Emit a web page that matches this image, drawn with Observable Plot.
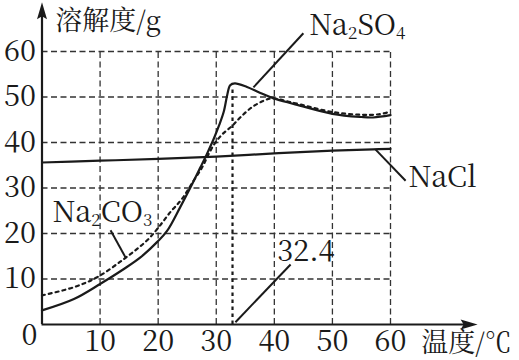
<!DOCTYPE html>
<html><head><meta charset="utf-8">
<script src="https://cdn.jsdelivr.net/npm/d3@7"></script>
<script src="https://cdn.jsdelivr.net/npm/@observablehq/plot@0.6"></script>
<style>html,body{margin:0;padding:0;background:#fff}#chart svg{display:block}</style>
</head><body><div id="chart"></div>
<script>
// tick values
const xTicks = [10, 20, 30, 40, 50, 60];
const yTicks = [10, 20, 30, 40, 50, 60];

// NaCl (solid)
const naclT = [0, 10, 20, 30, 40, 50, 57, 60];
const naclS = [35.6, 36.0, 36.4, 36.9, 37.6, 38.2, 38.5, 38.6];

// Na2SO4 (solid)
const na2so4T = [0, 5.5, 10, 14.1, 17, 19.8, 21.5, 23.8, 25.6, 27.3, 28.4, 29.5, 30.5, 31.3, 31.9, 32.4, 33.2, 35.3, 37.6, 39.9, 43.3, 50, 55, 57, 60];
const na2so4S = [3.1, 5.6, 8.9, 12.2, 14.8, 18.1, 20.5, 25.8, 30.2, 34.6, 37.5, 40.6, 43.8, 46.8, 50.5, 52.6, 53.0, 52.2, 50.9, 49.7, 48.5, 46.3, 45.6, 45.5, 46.0];

// Na2CO3 (dotted)
const na2co3T = [0, 5.5, 9.5, 14.1, 18.1, 20.1, 22.1, 24.1, 26.1, 27.6, 28.7, 29.9, 31.2, 32.7, 34.2, 36.2, 38.2, 39.6, 43, 50, 55, 58, 60];
const na2co3S = [6.4, 8.2, 10.4, 14.4, 18.5, 21.4, 24.7, 27.6, 31.6, 34.6, 37.5, 40.1, 42.0, 43.6, 45.6, 47.8, 49.2, 49.7, 48.8, 46.7, 46.1, 46.2, 46.8];

// transition temperature (dotted drop line)
const peakT = [32.8];
const peakS = [52];

// leader lines: [x1, y1, x2, y2]
const leaders = [
  [45.0, 64.0, 36.4, 52.1],   // Na2SO4
  [57.4, 38.5, 62.6, 31.6],   // NaCl
  [11.8, 20.7, 14.4, 14.7],   // Na2CO3
  [33.3, 0.5, 42.8, 13.2]     // 32.4
];

// labels
const labelText = ["Na2SO4", "NaCl", "Na2CO3", "32.4"];
const labelT = [46.0, 63.1, 1.8, 40.5];
const labelS = [65.7, 32.3, 24.6, 16.0];

const toRows = (ts, ss) => ts.map((t, i) => ({t, s: ss[i]}));
const nacl = toRows(naclT, naclS);
const na2so4 = toRows(na2so4T, na2so4S);
const na2co3 = toRows(na2co3T, na2co3S);
const peak = peakT.map((t, i) => ({t, s: peakS[i]}));
const leaderRows = leaders.map(([x1, y1, x2, y2]) => ({x1, y1, x2, y2}));
const labels = labelText.map((text, i) => ({text, t: labelT[i], s: labelS[i]}));

const ink = "#1a1a1a";
const songFont = "Noto Serif CJK SC";

const arrowHead = {
  draw(ctx) {
    ctx.moveTo(0, 0);
    ctx.lineTo(5, 17);
    ctx.lineTo(0, 14);
    ctx.lineTo(-5, 17);
    ctx.closePath();
  }
};
const arrowTips = [{t: 0, s: 70.8, r: 0}, {t: 75, s: 0, r: 90}];

const txt = {fontSize: 29, fill: ink, fontFamily: songFont};
const cjk = {fontSize: 27, fill: ink, fontFamily: songFont};

const chart = Plot.plot({
  width: 519,
  height: 360,
  marginLeft: 41.5,
  marginRight: 129,
  marginTop: 51,
  marginBottom: 36,
  style: {fontSize: "29px", fontFamily: songFont, color: ink, background: "#fff"},
  x: {domain: [0, 60], axis: null},
  y: {domain: [0, 60], axis: null},
  marks: [
    Plot.ruleX(xTicks, {x: d => d, y1: 0, y2: 60, stroke: "#333", strokeWidth: 1.3, strokeDasharray: "6,3.5"}),
    Plot.ruleY(yTicks, {y: d => d, x1: 0, x2: 60, stroke: "#333", strokeWidth: 1.3, strokeDasharray: "6,3.5"}),
    Plot.ruleX([0], {x: d => d, y1: 0, y2: 68, stroke: ink, strokeWidth: 2.2}),
    Plot.ruleY([0], {y: d => d, x1: 0, x2: 73, stroke: ink, strokeWidth: 2.2}),
    Plot.dot(arrowTips, {x: "t", y: "s", rotate: "r", symbol: arrowHead, r: 5, fill: ink, stroke: "none"}),
    Plot.axisX(xTicks, {tickSize: 0, tickPadding: 6, label: null, ...txt}),
    Plot.axisY(yTicks, {tickSize: 0, tickPadding: 6, label: null, ...txt}),
    Plot.text(["0"], {x: -0.8, y: -2.4, text: d => d, textAnchor: "end", ...txt}),
    Plot.ruleX(peak, {x: "t", y1: 0, y2: "s", stroke: ink, strokeWidth: 2.2, strokeDasharray: "3.5,3.5"}),
    Plot.line(nacl, {x: "t", y: "s", stroke: ink, strokeWidth: 2.2, curve: "monotone-x"}),
    Plot.line(na2co3, {x: "t", y: "s", stroke: ink, strokeWidth: 2.2, strokeDasharray: "3,4", curve: "catmull-rom"}),
    Plot.line(na2so4, {x: "t", y: "s", stroke: ink, strokeWidth: 2.2, curve: "catmull-rom"}),
    Plot.link(leaderRows, {x1: "x1", y1: "y1", x2: "x2", y2: "y2", stroke: ink, strokeWidth: 2}),
    Plot.text(labels, {x: "t", y: "s", text: "text", textAnchor: "start", ...txt}),
    Plot.text(["溶解度/g"], {x: 2.3, y: 66.6, text: d => d, textAnchor: "start", ...cjk}),
    Plot.text(["温度/℃"], {x: 65.3, y: -4.2, text: d => d, textAnchor: "start", ...cjk})
  ]
});

// chemical subscripts
d3.select(chart).selectAll("text").each(function () {
  const el = d3.select(this);
  const s = el.text();
  this.style.setProperty("font-family", "'" + songFont + "'", "important");
  if (!/^Na\d?[A-Z]/.test(s) || !/\d/.test(s)) return;
  const parts = s.match(/\d+|[^\d]+/g);
  el.text(null);
  let shifted = false;
  for (const p of parts) {
    const isSub = /^\d+$/.test(p);
    const ts = el.append("tspan").text(p);
    if (isSub) { ts.attr("font-size", 17).attr("dy", shifted ? 0 : 4); shifted = true; }
    else if (shifted) { ts.attr("dy", -4); shifted = false; }
  }
});

document.getElementById("chart").appendChild(chart);
</script>
</body></html>
